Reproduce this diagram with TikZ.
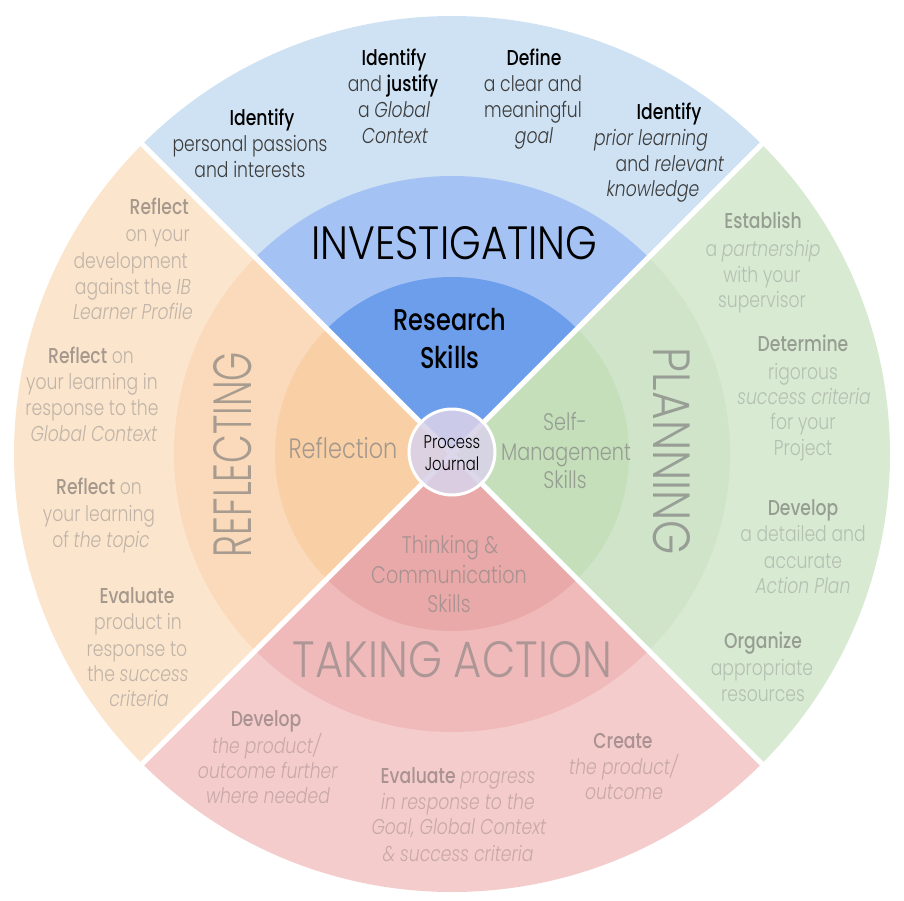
\documentclass[tikz,border=0pt]{standalone}
\usepackage{fontspec}
\setmainfont{Poppins}[UprightFont=* Light, ItalicFont=* Light Italic, BoldFont=* Medium, FakeStretch=0.8]
\usetikzlibrary{calc}

% quadrant fills, light (outer ring) to dark (inner disc)
\definecolor{bOut}{RGB}{207,226,243}
\definecolor{bMid}{RGB}{164,194,244}
\definecolor{bIn}{RGB}{109,158,235}
\definecolor{oOut}{RGB}{252,229,205}
\definecolor{oMid}{RGB}{250,218,186}
\definecolor{oIn}{RGB}{249,208,166}
\definecolor{gOut}{RGB}{217,234,211}
\definecolor{gMid}{RGB}{207,228,200}
\definecolor{gIn}{RGB}{197,223,187}
\definecolor{pOut}{RGB}{244,204,204}
\definecolor{pMid}{RGB}{240,186,186}
\definecolor{pIn}{RGB}{234,169,169}
\definecolor{journalFill}{RGB}{217,210,233}
% text colours
\definecolor{topTxt}{RGB}{60,60,60}
\definecolor{topKey}{RGB}{0,0,0}
\definecolor{leftTxt}{RGB}{192,180,168}
\definecolor{leftKey}{RGB}{165,152,140}
\definecolor{rightTxt}{RGB}{180,192,176}
\definecolor{rightKey}{RGB}{150,158,146}
\definecolor{botTxt}{RGB}{200,168,168}
\definecolor{botKey}{RGB}{170,146,146}
\definecolor{leftTitle}{RGB}{168,155,143}
\definecolor{rightTitle}{RGB}{152,158,150}
\definecolor{botTitle}{RGB}{172,150,150}

\newcommand\kT[1]{{\bfseries\color{topKey}#1}}
\newcommand\kL[1]{{\bfseries\color{leftKey}#1}}
\newcommand\kR[1]{{\bfseries\color{rightKey}#1}}
\newcommand\kB[1]{{\bfseries\color{botKey}#1}}
\newcommand\quadfill[4]{\fill[#1] (C) -- ($(C)+(#2:#4)$) arc[start angle=#2, end angle=#3, radius=#4] -- cycle;}

\tikzset{
  body/.style={inner sep=0pt, anchor=base, font=\fontsize{21.5}{26}\selectfont},
  topt/.style={body, text=topTxt},
  leftt/.style={body, text=leftTxt},
  rightt/.style={body, text=rightTxt},
  bott/.style={body, text=botTxt},
  skill/.style={inner sep=0pt, anchor=base, font=\fontsize{24}{30}\selectfont},
  divider/.style={white, line width=5pt},
}

\begin{document}
\begin{tikzpicture}[x=1pt,y=1pt]
\useasboundingbox (0,0) rectangle (904,-901);
\coordinate (C) at (452,-454);

% rings of each quadrant
\quadfill{bOut}{45}{135}{438}
\quadfill{oOut}{135}{225}{438}
\quadfill{pOut}{225}{315}{438}
\quadfill{gOut}{-45}{45}{438}
\quadfill{bMid}{45}{135}{278}
\quadfill{oMid}{135}{225}{278}
\quadfill{pMid}{225}{315}{278}
\quadfill{gMid}{-45}{45}{278}
\quadfill{bIn}{45}{135}{177}
\quadfill{oIn}{135}{225}{177}
\quadfill{pIn}{225}{315}{177}
\quadfill{gIn}{-45}{45}{177}

% white dividers between quadrants
\coordinate (dNE) at ($(C)+(45:440)$);
\coordinate (dSW) at ($(C)+(225:440)$);
\coordinate (dNW) at ($(C)+(135:440)$);
\coordinate (dSE) at ($(C)+(-45:440)$);
\draw[divider] (dNE) -- (dSW);
\draw[divider] (dNW) -- (dSE);

% centre: process journal
\node[circle, fill=journalFill, fill opacity=0.88, draw=white, line width=3pt,
      minimum size=86pt, inner sep=0pt] (journal) at (452,-452) {};
\node[inner sep=0pt, anchor=base, font=\fontsize{18.5}{22}\selectfont, text=black] (pj1) at (452,-448) {Process};
\node[inner sep=0pt, anchor=base, font=\fontsize{18.5}{22}\selectfont, text=black] (pj2) at (452,-470) {Journal};

% phase titles
\node[inner sep=0pt, text=black] (tInv) at (454.5,-243.5) {\resizebox{286pt}{33pt}{INVESTIGATING}};
\node[inner sep=0pt, text=botTitle] (tAct) at (452.5,-660) {\resizebox{319pt}{36pt}{TAKING ACTION}};
\node[inner sep=0pt, text=leftTitle, rotate=90] (tRef) at (232.5,-454.5) {\resizebox{205pt}{38pt}{REFLECTING}};
\node[inner sep=0pt, text=rightTitle, rotate=-90] (tPlan) at (671.5,-451.5) {\resizebox{207pt}{37pt}{PLANNING}};

% skills in the inner discs
\node[skill, font=\fontsize{30}{36}\bfseries, text=black] (rs1) at (450,-330) {Research};
\node[skill, font=\fontsize{30}{36}\bfseries, text=black] (rs2) at (450,-368) {Skills};
\node[skill, font=\fontsize{28}{32}\selectfont, text=leftKey] (refl) at (343,-458) {Reflection};
\node[skill, text=rightKey] (sm1) at (565,-430) {Self-};
\node[skill, text=rightKey] (sm2) at (566,-460) {Management};
\node[skill, text=rightKey] (sm3) at (565,-488) {Skills};
\node[skill, text=botKey] (tc1) at (450,-553) {Thinking \&};
\node[skill, text=botKey] (tc2) at (449,-583) {Communication};
\node[skill, text=botKey] (tc3) at (449,-612) {Skills};

% investigating
\node[topt] (i1a) at (262,-126) {\kT{Identify}};
\node[topt] (i1b) at (250,-152) {personal passions};
\node[topt] (i1c) at (250,-178) {and interests};
\node[topt] (i2a) at (394,-66) {\kT{Identify}};
\node[topt] (i2b) at (393,-92) {and \kT{justify}};
\node[topt] (i2c) at (394,-118) {a \textit{Global}};
\node[topt] (i2d) at (395,-144) {\textit{Context}};
\node[topt] (i3a) at (534,-66) {\kT{Define}};
\node[topt] (i3b) at (533,-92) {a clear and};
\node[topt] (i3c) at (533,-118) {meaningful};
\node[topt] (i3d) at (534,-144) {\textit{goal}};
\node[topt] (i4a) at (669,-120) {\kT{Identify}};
\node[topt] (i4b) at (651,-146) {\textit{prior learning}};
\node[topt] (i4c) at (670,-172) {and \textit{relevant}};
\node[topt] (i4d) at (653,-197) {\textit{knowledge}};

% reflecting
\node[leftt, anchor=base east] (r1a) at (189,-215) {\kL{Reflect}};
\node[leftt, anchor=base east] (r1b) at (190,-242) {on your};
\node[leftt, anchor=base east] (r1c) at (188,-268) {development};
\node[leftt, anchor=base east] (r1d) at (191,-294) {against the \textit{IB}};
\node[leftt, anchor=base east] (r1e) at (193,-319) {\textit{Learner Profile}};
\node[leftt] (r2a) at (91,-363) {\kL{Reflect} on};
\node[leftt] (r2b) at (92,-389) {your learning in};
\node[leftt] (r2c) at (92,-415) {response to the};
\node[leftt] (r2d) at (94,-441) {\textit{Global Context}};
\node[leftt] (r3a) at (99,-494) {\kL{Reflect} on};
\node[leftt] (r3b) at (99,-521) {your learning};
\node[leftt] (r3c) at (101,-547) {of \textit{the topic}};
\node[leftt] (r4a) at (137,-603) {\kL{Evaluate}};
\node[leftt] (r4b) at (138,-629) {product in};
\node[leftt] (r4c) at (137,-656) {response to};
\node[leftt] (r4d) at (138,-681) {the \textit{success}};
\node[leftt] (r4e) at (139,-706) {\textit{criteria}};

% planning
\node[rightt] (p1a) at (763,-229) {\kR{Establish}};
\node[rightt] (p1b) at (763,-256) {a \textit{partnership}};
\node[rightt] (p1c) at (762,-282) {with your};
\node[rightt] (p1d) at (762,-307) {supervisor};
\node[rightt] (p2a) at (803,-351) {\kR{Determine}};
\node[rightt] (p2b) at (803,-379) {rigorous};
\node[rightt] (p2c) at (804,-404) {\textit{success criteria}};
\node[rightt] (p2d) at (803,-429) {for your};
\node[rightt] (p2e) at (803,-455) {Project};
\node[rightt] (p3a) at (803,-515) {\kR{Develop}};
\node[rightt] (p3b) at (803,-541) {a detailed and};
\node[rightt] (p3c) at (803,-568) {accurate};
\node[rightt] (p3d) at (803,-593) {\textit{Action Plan}};
\node[rightt] (p4a) at (763,-648) {\kR{Organize}};
\node[rightt] (p4b) at (762,-675) {appropriate};
\node[rightt] (p4c) at (763,-701) {resources};

% taking action
\node[bott] (a1a) at (266,-726) {\kB{Develop}};
\node[bott] (a1b) at (267,-753) {\textit{the product/}};
\node[bott] (a1c) at (268,-778) {\textit{outcome further}};
\node[bott] (a1d) at (268,-803) {\textit{where needed}};
\node[bott] (a2a) at (458,-783) {\kB{Evaluate} \textit{progress}};
\node[bott] (a2b) at (458,-809) {\textit{in response to the}};
\node[bott] (a2c) at (459,-834) {\textit{Goal, Global Context}};
\node[bott] (a2d) at (458,-861) {\textit{\& success criteria}};
\node[bott] (a3a) at (623,-748) {\kB{Create}};
\node[bott] (a3b) at (624,-774) {\textit{the product/}};
\node[bott] (a3c) at (624,-799) {\textit{outcome}};
\end{tikzpicture}
\end{document}
